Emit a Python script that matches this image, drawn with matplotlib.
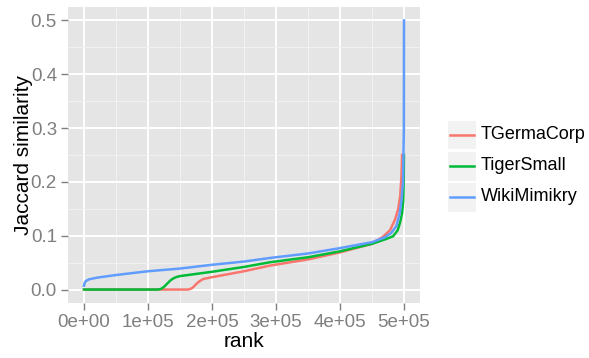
import matplotlib
matplotlib.use("Agg")
import matplotlib.pyplot as plt
from matplotlib.patches import Rectangle
from matplotlib.lines import Line2D

plt.rcParams['font.family'] = ['Liberation Sans', 'DejaVu Sans']

series_names = ["TGermaCorp", "TigerSmall", "WikiMimikry"]
series_colors = ["#F8766D", "#00BA38", "#619CFF"]

red_rank = [0, 163000, 168000, 172000, 176000, 180000, 186000, 200000, 250000, 290000,
            350000, 400000, 450000, 468000, 478000, 486000, 491000, 494000, 496000, 497000]
red_sim = [0, 0, 0.002, 0.006, 0.011, 0.015, 0.0195, 0.023, 0.034, 0.0444,
           0.056, 0.069, 0.085, 0.099, 0.11, 0.13, 0.15, 0.173, 0.21, 0.25]

green_rank = [0, 115000, 120000, 125000, 130000, 135000, 140000, 145000, 150000, 200000,
              250000, 290000, 350000, 400000, 450000, 470000, 483000, 490000, 494000,
              497000, 498800, 499500, 499900]
green_sim = [0, 0, 0.001, 0.005, 0.011, 0.017, 0.021, 0.0235, 0.025, 0.033,
             0.042, 0.0506, 0.06, 0.071, 0.085, 0.093, 0.099, 0.11, 0.125,
             0.142, 0.165, 0.2, 0.25]

blue_rank = [0, 1000, 3000, 8000, 20000, 50000, 100000, 150000, 200000, 250000, 290000,
             350000, 400000, 450000, 470000, 480000, 488000, 493000, 496000, 498500,
             499800, 500000]
blue_sim = [0.007, 0.012, 0.016, 0.019, 0.022, 0.027, 0.034, 0.039, 0.046, 0.052, 0.0586,
            0.067, 0.077, 0.088, 0.097, 0.105, 0.118, 0.14, 0.165, 0.2,
            0.3, 0.5]

x_ticks = [0, 100000, 200000, 300000, 400000, 500000]
x_tick_labels = ["0e+00", "1e+05", "2e+05", "3e+05", "4e+05", "5e+05"]
y_ticks = [0.0, 0.1, 0.2, 0.3, 0.4, 0.5]
y_tick_labels = ["0.0", "0.1", "0.2", "0.3", "0.4", "0.5"]

W, H = 589, 358
fig = plt.figure(figsize=(W / 100, H / 100), dpi=100)
ax = fig.add_axes([68 / W, 1 - 303 / H, (420 - 68) / W, (303 - 7) / H])
ax.set_facecolor("#E5E5E5")
for s in ax.spines.values():
    s.set_visible(False)

ax.set_xlim(-25000, 525000)
ax.set_ylim(-0.025, 0.525)
ax.set_xticks(x_ticks)
ax.set_xticklabels(x_tick_labels)
ax.set_yticks(y_ticks)
ax.set_yticklabels(y_tick_labels)
ax.set_xticks([50000, 150000, 250000, 350000, 450000], minor=True)
ax.set_yticks([0.05, 0.15, 0.25, 0.35, 0.45], minor=True)
ax.grid(which="major", color="white", linewidth=1.4)
ax.grid(which="minor", color="#F2F2F2", linewidth=0.7)
ax.set_axisbelow(True)
ax.tick_params(which="major", length=5, width=1, color="#7F7F7F",
               labelcolor="#7F7F7F", labelsize=13.5, pad=3)
ax.tick_params(which="minor", length=0)

for r, v, c in [(red_rank, red_sim, series_colors[0]),
                (green_rank, green_sim, series_colors[1]),
                (blue_rank, blue_sim, series_colors[2])]:
    ax.plot(r, v, color=c, linewidth=1.8, solid_joinstyle="round")

ax.set_xlabel("rank", fontsize=15)
ax.set_ylabel("Jaccard similarity", fontsize=15)
ax.xaxis.set_label_coords(0.5, -0.097)
ax.yaxis.set_label_coords(-0.1, 0.5)

# legend
key_tops = [120, 151, 182]
for top, name, col in zip(key_tops, series_names, series_colors):
    fig.add_artist(Rectangle((447 / W, 1 - (top + 29.5) / H), 29.5 / W, 29.5 / H,
                             transform=fig.transFigure, facecolor="#F2F2F2",
                             edgecolor="white", linewidth=0.8))
    yc = 1 - (top + 14.75) / H
    fig.add_artist(Line2D([450 / W, 474 / W], [yc, yc], transform=fig.transFigure,
                          color=col, linewidth=1.8))
    fig.text(481 / W, yc, name, fontsize=13, va="center", ha="left")

fig.savefig("out.png", dpi=100)
